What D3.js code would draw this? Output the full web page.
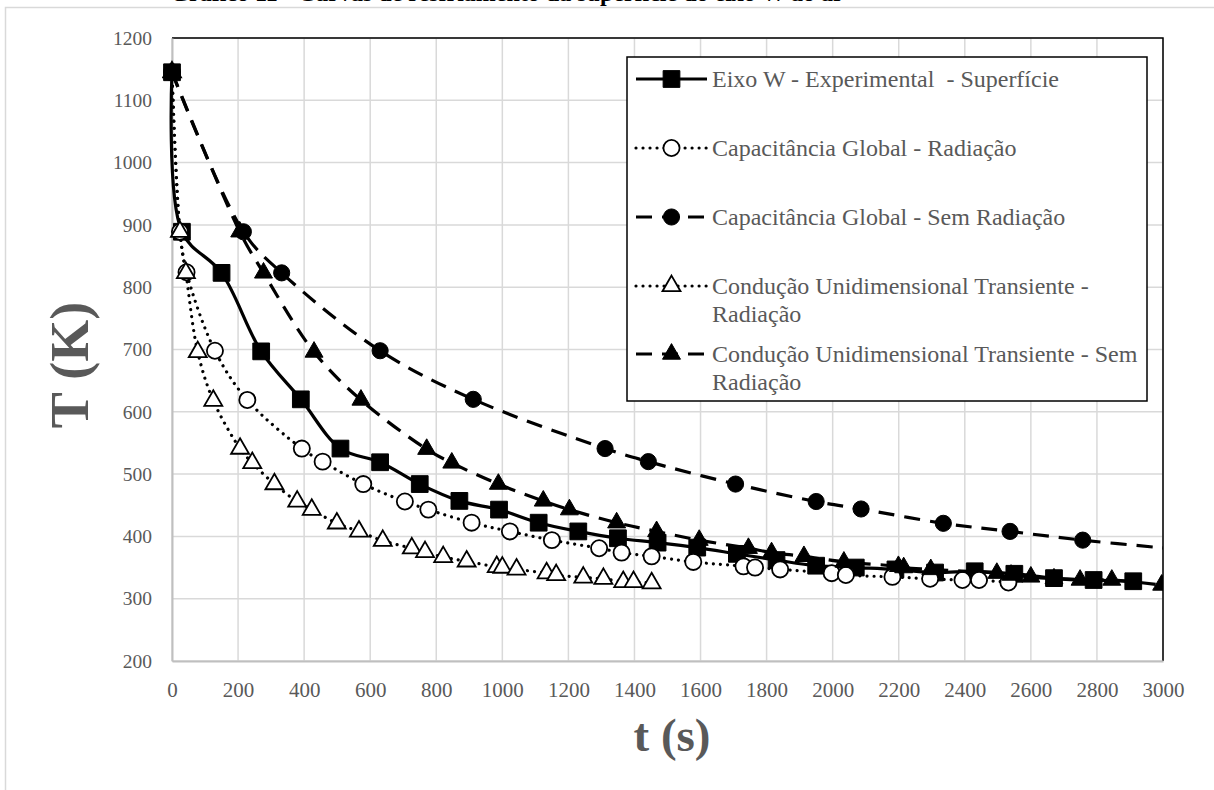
<!DOCTYPE html>
<html>
<head>
<meta charset="utf-8">
<script src="https://cdn.jsdelivr.net/npm/d3@7"></script>
<style>
  body { margin: 0; background: #fff; }
  svg { display: block; }
  text { font-family: "Times New Roman", "Liberation Serif", serif; white-space: pre; }
</style>
</head>
<body>
<svg id="chart" width="1214" height="790"></svg>
<script>
// ---- data: time (s) and surface temperature (K) ----
const timeExperimental = [0, 30, 150, 270, 390, 510, 630, 750, 870, 990, 1110, 1230, 1350, 1470, 1590, 1710, 1830, 1950, 2070, 2190, 2310, 2430, 2550, 2670, 2790, 2910];
const tempExperimental = [1145, 889, 823, 697, 620, 541, 519, 484, 457, 443, 422, 408, 397, 390, 382, 372, 362, 353, 350, 347, 342, 344, 340, 333, 330, 328];

const timeLumpedRad = [0, 24, 44, 130, 228, 393, 456, 579, 705, 776, 907, 1023, 1150, 1293, 1361, 1452, 1578, 1730, 1765, 1841, 1997, 2040, 2181, 2295, 2393, 2443, 2532];
const tempLumpedRad = [1145, 889, 824, 698, 619, 541, 520, 484, 456, 443, 422, 408, 394, 381, 374, 368, 359, 352, 350, 347, 341, 338, 335, 332, 330, 330, 326];

const timeLumpedNoRad = [0, 216, 332, 630, 912, 1311, 1442, 1706, 1950, 2086, 2335, 2537, 2757, 3010];
const tempLumpedNoRad = [1145, 889, 823, 698, 620, 541, 520, 484, 456, 444, 421, 408, 394, 381];

const timeConductionRad = [0, 24, 42, 78, 125, 206, 243, 310, 379, 423, 499, 566, 638, 726, 766, 821, 892, 983, 1000, 1043, 1134, 1163, 1245, 1306, 1366, 1397, 1452];
const tempConductionRad = [1145, 889, 823, 696, 618, 541, 518, 484, 456, 443, 421, 408, 393, 381, 375, 367, 360, 351, 350, 347, 341, 338, 334, 332, 327, 327, 325];

const timeConductionNoRad = [0, 205, 277, 430, 572, 771, 847, 988, 1124, 1203, 1346, 1467, 1596, 1745, 1815, 1913, 2034, 2199, 2215, 2297, 2497, 2540, 2600, 2670, 2749, 2845, 2996];
const tempConductionNoRad = [1145, 889, 823, 696, 619, 540, 518, 484, 457, 443, 422, 408, 394, 381, 374, 368, 359, 352, 350, 347, 341, 338, 335, 332, 330, 330, 322];

const seriesNames = [
  ["Eixo W - Experimental  - Superfície"],
  ["Capacitância Global - Radiação"],
  ["Capacitância Global - Sem Radiação"],
  ["Condução Unidimensional Transiente -", "Radiação"],
  ["Condução Unidimensional Transiente - Sem", "Radiação"]
];

const xTicks = [0, 200, 400, 600, 800, 1000, 1200, 1400, 1600, 1800, 2000, 2200, 2400, 2600, 2800, 3000];
const yTicks = [200, 300, 400, 500, 600, 700, 800, 900, 1000, 1100, 1200];

const chartTitle = "Gráfico 11 - Curvas de resfriamento da superfície do eixo W ao ar";
const xTitle = "t (s)";
const yTitle = "T (K)";

// ---- styles per series ----
const styles = [
  { marker: "square",   fill: "#000", dash: null,      cap: "butt"  },
  { marker: "circle",   fill: "#fff", dash: "0.01 7",  cap: "round" },
  { marker: "circle",   fill: "#000", dash: "16 10",   cap: "butt"  },
  { marker: "triangle", fill: "#fff", dash: "0.01 7",  cap: "round" },
  { marker: "triangle", fill: "#000", dash: "16 10",   cap: "butt"  }
];

const series = [
  [timeExperimental, tempExperimental],
  [timeLumpedRad, tempLumpedRad],
  [timeLumpedNoRad, tempLumpedNoRad],
  [timeConductionRad, tempConductionRad],
  [timeConductionNoRad, tempConductionNoRad]
].map(([ts, vs], i) => ({
  name: seriesNames[i],
  style: styles[i],
  points: ts.map((t, k) => ({ t, v: vs[k] }))
}));

// ---- layout ----
const svg = d3.select("#chart");
const plot = { left: 172, right: 1163, top: 38, bottom: 661 };

const x = d3.scaleLinear().domain([0, 3000]).range([plot.left, plot.right]);
const y = d3.scaleLinear().domain([200, 1200]).range([plot.bottom, plot.top]);

// outer chart frame (extends past the window on the right and bottom)
svg.append("rect")
  .attr("x", 5.5).attr("y", 7.5).attr("width", 1300).attr("height", 900)
  .attr("fill", "#fff").attr("stroke", "#d9d9d9").attr("stroke-width", 1.5);

// title (mostly above the visible area)
svg.append("text")
  .attr("x", 507).attr("y", 1)
  .attr("text-anchor", "middle")
  .attr("font-size", 24).attr("font-weight", "bold").attr("fill", "#000")
  .text(chartTitle);

// gridlines
svg.append("g")
  .selectAll("line")
  .data(xTicks)
  .join("line")
  .attr("x1", d => x(d)).attr("x2", d => x(d))
  .attr("y1", plot.top).attr("y2", plot.bottom)
  .attr("stroke", "#d9d9d9").attr("stroke-width", 1.5);

svg.append("g")
  .selectAll("line")
  .data(yTicks)
  .join("line")
  .attr("x1", plot.left).attr("x2", plot.right)
  .attr("y1", d => y(d)).attr("y2", d => y(d))
  .attr("stroke", "#d9d9d9").attr("stroke-width", 1.5);

// plot border: top and right in black
svg.append("path")
  .attr("d", `M${plot.left},${plot.top}H${plot.right}V${plot.bottom}`)
  .attr("fill", "none").attr("stroke", "#000").attr("stroke-width", 1.5);

// axes
const fmt = d3.format("d");
const xAxis = d3.axisBottom(x).tickValues(xTicks).tickFormat(fmt).tickSize(0).tickPadding(21);
const yAxis = d3.axisLeft(y).tickValues(yTicks).tickFormat(fmt).tickSize(0).tickPadding(20);

const gx = svg.append("g").attr("transform", `translate(0,${plot.bottom})`).call(xAxis);
const gy = svg.append("g").attr("transform", `translate(${plot.left},0)`).call(yAxis);
[gx, gy].forEach(g => {
  g.select(".domain").attr("stroke", "#bfbfbf").attr("stroke-width", 2);
  g.selectAll("text")
    .attr("font-family", "'Times New Roman', 'Liberation Serif', serif")
    .attr("fill", "#595959");
});
gx.selectAll("text").attr("font-size", 21);
gy.selectAll("text").attr("font-size", 19.5);

// axis titles
svg.append("text")
  .attr("x", 672).attr("y", 751)
  .attr("text-anchor", "middle")
  .attr("font-size", 47).attr("font-weight", "bold").attr("fill", "#595959")
  .text(xTitle);

svg.append("text")
  .attr("transform", "translate(88,365) rotate(-90)")
  .attr("text-anchor", "middle")
  .attr("font-size", 54).attr("font-weight", "bold").attr("fill", "#595959")
  .text(yTitle);

// ---- series ----
svg.append("defs").append("clipPath").attr("id", "plotClip")
  .append("rect")
  .attr("x", plot.left - 10).attr("y", plot.top - 10)
  .attr("width", plot.right - plot.left + 10).attr("height", plot.bottom - plot.top + 10);

const line = d3.line()
  .x(d => x(d.t)).y(d => y(d.v))
  .curve(d3.curveCatmullRom.alpha(0.5));

function markerPath(kind) {
  if (kind === "square") return d3.symbol(d3.symbolSquare, 280)();
  if (kind === "circle") return d3.symbol(d3.symbolCircle, 205)();
  return d3.symbol(d3.symbolTriangle, 140)();
}

function drawMarker(sel, style) {
  sel.append("path")
    .attr("d", markerPath(style.marker))
    .attr("fill", style.fill)
    .attr("stroke", "#000")
    .attr("stroke-width", style.fill === "#fff" ? 1.8 : 1);
}

const gSeries = svg.append("g").attr("clip-path", "url(#plotClip)");

series.forEach(s => {
  const g = gSeries.append("g");
  g.append("path")
    .datum(s.points)
    .attr("d", line)
    .attr("fill", "none")
    .attr("stroke", "#000")
    .attr("stroke-width", 3.2)
    .attr("stroke-linecap", s.style.cap)
    .attr("stroke-linejoin", "round")
    .attr("stroke-dasharray", s.style.dash);
  g.selectAll("g.m")
    .data(s.points.filter(p => p.t <= 3000))
    .join("g")
    .attr("transform", d => `translate(${x(d.t)},${y(d.v)})`)
    .each(function () { drawMarker(d3.select(this), s.style); });
});

// ---- legend ----
const legend = { left: 627, top: 57, right: 1147, bottom: 401 };
svg.append("rect")
  .attr("x", legend.left).attr("y", legend.top)
  .attr("width", legend.right - legend.left).attr("height", legend.bottom - legend.top)
  .attr("fill", "#fff").attr("stroke", "#000").attr("stroke-width", 1.5);

const legendRows = [79, 148, 217, 286, 354];
series.forEach((s, i) => {
  const cy = legendRows[i];
  const g = svg.append("g");
  g.append("line")
    .attr("x1", 636).attr("x2", 707).attr("y1", cy).attr("y2", cy)
    .attr("stroke", "#000").attr("stroke-width", 3.2)
    .attr("stroke-linecap", s.style.cap)
    .attr("stroke-dasharray", s.style.dash);
  drawMarker(g.append("g").attr("transform", `translate(671.5,${cy})`), s.style);
  s.name.forEach((txt, k) => {
    g.append("text")
      .attr("x", 712).attr("y", cy + 8 + k * 28)
      .attr("font-size", 24).attr("fill", "#595959")
      .text(txt);
  });
});
</script>
</body>
</html>
